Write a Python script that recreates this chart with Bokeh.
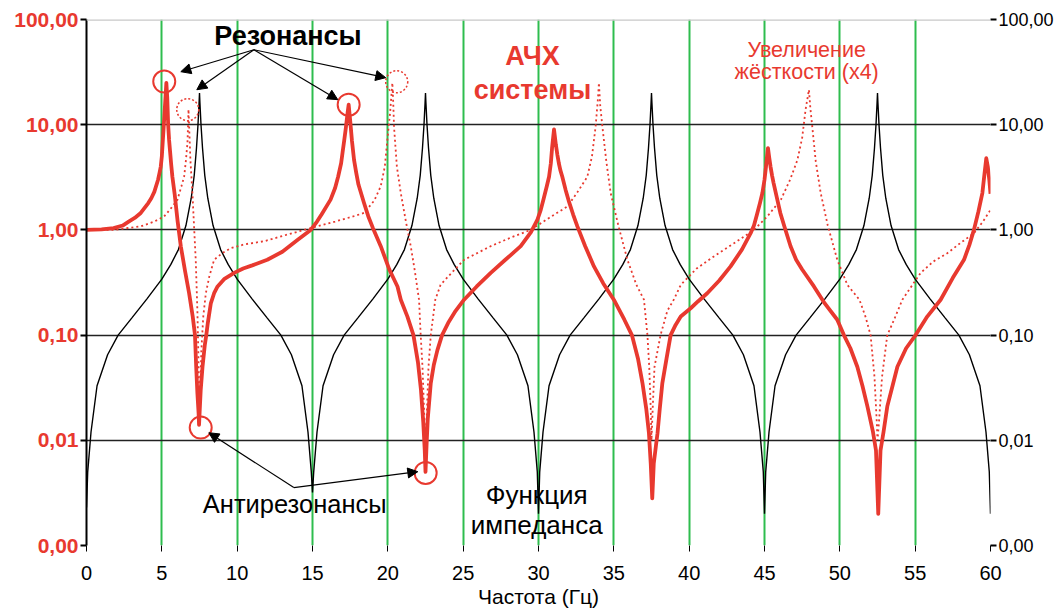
from bokeh.plotting import figure
from bokeh.models import (Range1d, FixedTicker, LogAxis, Span, Arrow, NormalHead)
from bokeh.core.properties import value
from bokeh.embed import file_html
from bokeh.resources import INLINE

# ---------------- data ----------------
x_ticks = [0, 5, 10, 15, 20, 25, 30, 35, 40, 45, 50, 55, 60]
y_ticks = [0.001, 0.01, 0.1, 1, 10, 100]
y_tick_labels = ["0,00", "0,01", "0,10", "1,00", "10,00", "100,00"]
green_lines = [5, 10, 15, 20, 25, 30, 35, 40, 45, 50, 55]
black_grid = [0.01, 0.1, 1, 10]

# impedance function (black)
imp_f = [0, 0.08, 0.3, 0.7, 1.4, 2.1, 3.0, 4.0, 5.0, 5.6, 6.1, 6.6, 6.95, 7.15, 7.3, 7.4, 7.47, 7.5,
         7.53, 7.6, 7.7, 7.85, 8.05, 8.4, 8.9, 9.4, 10.0, 11.0, 12.0, 12.9, 13.6, 14.3, 14.7, 14.92, 15.0,
         15.08, 15.3, 15.7, 16.4, 17.1, 18.0, 19.0, 20.0, 20.6, 21.1, 21.6, 21.95, 22.15, 22.3, 22.4, 22.47, 22.5,
         22.53, 22.6, 22.7, 22.85, 23.05, 23.4, 23.9, 24.4, 25.0, 26.0, 27.0, 27.9, 28.6, 29.3, 29.7, 29.92, 30.0,
         30.08, 30.3, 30.7, 31.4, 32.1, 33.0, 34.0, 35.0, 35.6, 36.1, 36.6, 36.95, 37.15, 37.3, 37.4, 37.47, 37.5,
         37.53, 37.6, 37.7, 37.85, 38.05, 38.4, 38.9, 39.4, 40.0, 41.0, 42.0, 42.9, 43.6, 44.3, 44.7, 44.92, 45.0,
         45.08, 45.3, 45.7, 46.4, 47.1, 48.0, 49.0, 50.0, 50.6, 51.1, 51.6, 51.95, 52.15, 52.3, 52.4, 52.47, 52.5,
         52.53, 52.6, 52.7, 52.85, 53.05, 53.4, 53.9, 54.4, 55.0, 56.0, 57.0, 57.9, 58.6, 59.3, 59.7, 59.92, 60.0]
imp_v = [0.0023, 0.005, 0.012, 0.033, 0.065, 0.1, 0.145, 0.22, 0.34, 0.47, 0.65, 1.1, 2.0, 3.3, 6.0, 10, 16, 20,
         16, 10, 6.0, 3.3, 2.0, 1.1, 0.65, 0.47, 0.34, 0.22, 0.145, 0.1, 0.065, 0.033, 0.012, 0.005, 0.0032,
         0.005, 0.012, 0.033, 0.065, 0.1, 0.145, 0.22, 0.34, 0.47, 0.65, 1.1, 2.0, 3.3, 6.0, 10, 16, 20,
         16, 10, 6.0, 3.3, 2.0, 1.1, 0.65, 0.47, 0.34, 0.22, 0.145, 0.1, 0.065, 0.033, 0.012, 0.005, 0.002,
         0.005, 0.012, 0.033, 0.065, 0.1, 0.145, 0.22, 0.34, 0.47, 0.65, 1.1, 2.0, 3.3, 6.0, 10, 16, 20,
         16, 10, 6.0, 3.3, 2.0, 1.1, 0.65, 0.47, 0.34, 0.22, 0.145, 0.1, 0.065, 0.033, 0.012, 0.005, 0.002,
         0.005, 0.012, 0.033, 0.065, 0.1, 0.145, 0.22, 0.34, 0.47, 0.65, 1.1, 2.0, 3.3, 6.0, 10, 16, 20,
         16, 10, 6.0, 3.3, 2.0, 1.1, 0.65, 0.47, 0.34, 0.22, 0.145, 0.1, 0.065, 0.033, 0.012, 0.005, 0.002]

# system FRF (thick red)
frf_f = [0, 1.0, 1.8, 2.4, 2.8, 3.2, 3.6, 4.1, 4.3, 4.5, 4.75, 4.85, 4.93, 5.0, 5.05, 5.15, 5.24, 5.3,
         5.36, 5.42, 5.48, 5.55, 5.62, 5.7, 5.85, 6.05, 6.26, 6.55, 6.81, 7.05, 7.2, 7.28, 7.36, 7.44, 7.47,
         7.52, 7.58, 7.7, 7.85, 7.95, 8.05, 8.25, 8.47, 8.7, 9.13, 9.8, 10.4, 11.0, 12.0, 13.0, 14.0, 14.88,
         15.3, 15.6, 16.2, 16.5, 16.7, 16.9, 17.0, 17.1, 17.2, 17.33, 17.4, 17.5, 17.62, 17.76, 17.9, 18.05,
         18.42, 18.7, 19.0, 19.53, 20.1, 20.64, 20.86, 21.3, 21.7, 22.0, 22.2, 22.35, 22.45, 22.5, 22.57,
         22.65, 22.85, 23.05, 23.29, 23.6, 24.0, 24.5, 25.06, 25.9, 26.83, 27.8, 28.82, 29.5, 29.93, 30.15,
         30.35, 30.55, 30.7, 30.82, 30.9, 31.03, 31.15, 31.25, 31.35, 31.45, 31.58, 31.8, 32.0, 32.3, 32.58,
         33.1, 33.68, 34.3, 35.0, 35.7, 36.2, 36.6, 36.9, 37.15, 37.33, 37.45, 37.55, 37.65, 37.8, 37.9,
         38.05, 38.22, 38.5, 38.77, 39.1, 39.44, 40.1, 40.6, 41.2, 42.0, 42.75, 43.5, 44.08, 44.3, 44.5,
         44.7, 44.86, 45.0, 45.1, 45.23, 45.32, 45.4, 45.5, 45.6, 45.85, 46.05, 46.3, 46.73, 47.1, 47.5,
         48.28, 49.0, 49.83, 50.27, 50.7, 51.16, 51.5, 51.83, 52.2, 52.4, 52.55, 52.7, 52.9, 53.15, 53.5,
         53.82, 54.4, 55.03, 55.8, 56.69, 57.5, 58.24, 58.6, 58.9, 59.2, 59.46, 59.6, 59.72, 59.82, 59.92,
         60.0]
frf_v = [1.0, 1.01, 1.04, 1.1, 1.2, 1.3, 1.45, 1.8, 2.0, 2.3, 3.0, 3.5, 4.0, 5.0, 6.5, 11, 18, 25,
         18, 10, 7.2, 5.5, 4.2, 3.2, 2.2, 1.2, 0.70, 0.40, 0.25, 0.15, 0.1, 0.05, 0.028, 0.018, 0.014,
         0.02, 0.03, 0.05, 0.08, 0.1, 0.13, 0.2, 0.25, 0.29, 0.34, 0.39, 0.43, 0.46, 0.52, 0.62, 0.8, 1.0,
         1.2, 1.4, 1.94, 2.5, 3.2, 4.3, 5.5, 7.0, 9.0, 13, 15.5, 11, 7.0, 4.6, 3.5, 2.7,
         1.8, 1.35, 1.05, 0.70, 0.42, 0.29, 0.217, 0.15, 0.1, 0.055, 0.03, 0.015, 0.008, 0.005, 0.009,
         0.016, 0.035, 0.052, 0.072, 0.1, 0.13, 0.17, 0.217, 0.29, 0.39, 0.52, 0.70, 0.95, 1.25, 1.55,
         2.0, 2.6, 3.2, 4.3, 6.0, 9.0, 6.5, 5.2, 4.3, 3.7, 3.2, 2.4, 1.9, 1.4, 1.08,
         0.7, 0.45, 0.31, 0.217, 0.14, 0.1, 0.06, 0.035, 0.02, 0.0117, 0.006, 0.0028, 0.006, 0.009, 0.0117,
         0.02, 0.035, 0.06, 0.1, 0.125, 0.15, 0.18, 0.21, 0.25, 0.33, 0.45, 0.65, 0.93, 1.1, 1.4,
         1.8, 2.24, 3.0, 4.0, 6.0, 4.8, 4.0, 3.3, 2.8, 1.94, 1.45, 1.1, 0.70, 0.52, 0.42,
         0.29, 0.2, 0.14, 0.1, 0.075, 0.05, 0.033, 0.021, 0.012, 0.008, 0.002, 0.008, 0.012, 0.021, 0.033,
         0.05, 0.075, 0.1, 0.15, 0.217, 0.35, 0.52, 0.72, 1.0, 1.5, 2.24, 3.4, 4.8, 4.0, 3.0,
         2.2]

# FRF with stiffness x4 (dotted red)
stiff_f = [0, 1.8, 3.6, 4.5, 5.15, 5.6, 6.04, 6.3, 6.48, 6.6, 6.7, 6.74, 6.77, 6.82, 6.9, 7.03, 7.15,
           7.25, 7.36, 7.42, 7.47, 7.5, 7.55, 7.62, 7.75, 7.92, 8.15, 8.47, 9.0, 9.58, 10.5, 11.79, 13.3,
           14.88, 16.5, 17.6, 18.42, 19.1, 19.53, 19.8, 19.97, 20.15, 20.3, 20.36, 20.41, 20.6, 20.86, 21.2,
           21.52, 21.8, 22.07, 22.18, 22.3, 22.4, 22.5, 22.6, 22.7, 22.85, 23.15, 23.5, 24.0, 25.06, 26.83,
           28.2, 29.48, 30.7, 31.92, 32.6, 33.24, 33.55, 33.79, 33.95, 34.01, 34.1, 34.24, 34.5, 34.79, 35.3,
           35.9, 36.5, 37.0, 37.23, 37.35, 37.45, 37.5, 37.58, 37.7, 38.1, 38.55, 39.0, 39.44, 40.5, 41.64,
           43.0, 44.3, 45.2, 46.09, 46.7, 47.18, 47.5, 47.73, 47.95, 48.05, 48.17, 48.4, 48.73, 49.2, 49.83,
           50.5, 51.3, 51.7, 52.04, 52.3, 52.45, 52.5, 52.6, 52.8, 53.15, 53.6, 54.15, 55.36, 56.2, 57.13,
           58.0, 58.9, 59.5, 60.0]
stiff_v = [1.0, 1.0, 1.08, 1.2, 1.34, 1.6, 1.94, 2.6, 3.2, 4.6, 6.7, 10, 14, 9, 4.5, 2.24, 1.0,
           0.52, 0.17, 0.07, 0.03, 0.015, 0.03, 0.07, 0.15, 0.25, 0.36, 0.52, 0.6, 0.67, 0.73, 0.78, 0.9,
           1.04, 1.2, 1.33, 1.45, 1.9, 2.6, 4.0, 7.2, 13, 25, 16, 9.6, 4.0, 2.24, 1.2,
           0.70, 0.4, 0.217, 0.1, 0.05, 0.02, 0.007, 0.02, 0.05, 0.1, 0.217, 0.3, 0.36, 0.52, 0.70,
           0.85, 1.0, 1.3, 1.67, 2.3, 3.2, 5.0, 9.6, 18, 25, 15, 9.6, 4.5, 2.24, 1.1,
           0.52, 0.3, 0.217, 0.1, 0.05, 0.02, 0.01, 0.02, 0.05, 0.1, 0.17, 0.22, 0.3, 0.43, 0.56,
           0.75, 1.0, 1.35, 1.94, 3.0, 4.6, 7.5, 14, 21.5, 14, 9.6, 4.5, 2.24, 1.1, 0.52,
           0.3, 0.217, 0.15, 0.1, 0.04, 0.015, 0.01, 0.015, 0.04, 0.1, 0.14, 0.217, 0.39, 0.5, 0.60,
           0.75, 0.93, 1.2, 1.55]

# marked points (circles)
solid_mark_f = [5.16, 17.4, 7.58, 22.51]
solid_mark_v = [25.7, 15.5, 0.0132, 0.0049]
dotted_mark_f = [6.72, 20.59]
dotted_mark_v = [13.9, 25.6]

RED = "#e8392f"
GREEN = "#2ebd4e"
FONT = "Liberation Sans"

# ---------------- figure ----------------
p = figure(width=1056, height=610, output_backend="svg", toolbar_location=None,
           y_axis_type="log", x_range=Range1d(0, 60), y_range=Range1d(0.001, 100),
           min_border_left=86, min_border_right=66, min_border_top=19, min_border_bottom=65)
p.outline_line_color = None
p.background_fill_color = "white"
p.border_fill_color = "white"

# grids
p.xgrid.ticker = FixedTicker(ticks=green_lines)
p.xgrid.grid_line_color = GREEN
p.xgrid.grid_line_width = 2
p.ygrid.ticker = FixedTicker(ticks=black_grid)
p.ygrid.grid_line_color = "#222222"
p.ygrid.grid_line_width = 1.5
p.add_layout(Span(location=100, dimension="width", line_color="#c8c8c8", line_width=2.5))

# x axis
xa = p.xaxis[0]
xa.ticker = FixedTicker(ticks=x_ticks)
xa.axis_line_color = None
xa.major_tick_line_color = "black"
xa.major_tick_out = 6
xa.major_tick_in = 0
xa.minor_tick_line_color = None
xa.major_label_text_font = FONT
xa.major_label_text_font_size = "20px"
xa.major_label_text_color = "black"
xa.major_label_standoff = 14
xa.axis_label = "Частота (Гц)"
xa.axis_label_text_font = FONT
xa.axis_label_text_font_size = "21px"
xa.axis_label_text_font_style = "normal"
xa.axis_label_text_color = "black"
xa.axis_label_standoff = 2

overrides = {t: s for t, s in zip(y_ticks, y_tick_labels)}

# left y axis
ya = p.yaxis[0]
ya.ticker = FixedTicker(ticks=y_ticks)
ya.major_label_overrides = overrides
ya.axis_line_color = "black"
ya.axis_line_width = 2
ya.major_tick_line_color = "black"
ya.major_tick_line_width = 2
ya.major_tick_out = 6
ya.major_tick_in = 0
ya.minor_tick_line_color = None
ya.major_label_text_font = FONT
ya.major_label_text_font_size = "21px"
ya.major_label_text_font_style = "bold"
ya.major_label_text_color = RED
ya.major_label_standoff = 2

# right y axis
ra = LogAxis(ticker=FixedTicker(ticks=y_ticks), major_label_overrides=overrides)
ra.axis_line_color = None
ra.major_tick_line_color = "black"
ra.major_tick_line_width = 2
ra.major_tick_out = 6
ra.major_tick_in = 0
ra.minor_tick_line_color = None
ra.major_label_text_font = FONT
ra.major_label_text_font_size = "18px"
ra.major_label_text_color = "black"
ra.major_label_standoff = 2
p.add_layout(ra, "right")

# curves
p.line(imp_f, imp_v, line_color="black", line_width=1.4)
p.line(stiff_f, stiff_v, line_color=RED, line_width=1.8, line_dash="2 3")
p.line(frf_f, frf_v, line_color=RED, line_width=3.8, line_join="round")

# circles
p.scatter(solid_mark_f, solid_mark_v, marker="circle", size=22, fill_color=None,
          line_color=RED, line_width=2)
p.scatter(dotted_mark_f, dotted_mark_v, marker="circle", size=22, fill_color=None,
          line_color=RED, line_width=1.5, line_dash="2 2")

# texts
p.text(x=[13.37], y=[70.2], text=["Резонансы"], text_font=value(FONT), text_font_size="27px",
       text_font_style="bold", text_color="black", text_align="center", text_baseline="middle")
p.text(x=[29.6, 29.6], y=[45.3, 21.5], text=["АЧХ", "системы"], text_font=value(FONT),
       text_font_size="27px", text_font_style="bold", text_color=RED, text_align="center",
       text_baseline="middle")
p.text(x=[47.8, 47.8], y=[51.6, 31.9], text=["Увеличение", "жёсткости (x4)"], text_font=value(FONT),
       text_font_size="21.5px", text_color=RED, text_align="center", text_baseline="middle")
p.text(x=[13.82], y=[0.0025], text=["Антирезонансы"], text_font=value(FONT), text_font_size="25.5px",
       text_color="black", text_align="center", text_baseline="middle")
p.text(x=[29.88, 29.88], y=[0.00304, 0.00158], text=["Функция", "импеданса"], text_font=value(FONT),
       text_font_size="26px", text_color="black", text_align="center", text_baseline="middle")

# arrows
res_start = (11.11, 51.6)
res_tips = [(6.26, 31.9), (7.32, 21.5), (16.68, 17.3), (19.86, 28.0)]
for tx, ty in res_tips:
    p.add_layout(Arrow(end=NormalHead(size=10, fill_color="black", line_color="black"),
                       x_start=res_start[0], y_start=res_start[1], x_end=tx, y_end=ty,
                       line_color="black", line_width=1.2))
anti_start = (13.76, 0.00355)
anti_tips = [(8.12, 0.0118), (21.99, 0.00503)]
for tx, ty in anti_tips:
    p.add_layout(Arrow(end=NormalHead(size=10, fill_color="black", line_color="black"),
                       x_start=anti_start[0], y_start=anti_start[1], x_end=tx, y_end=ty,
                       line_color="black", line_width=1.2))

open("out.html", "w").write(file_html(p, INLINE))
